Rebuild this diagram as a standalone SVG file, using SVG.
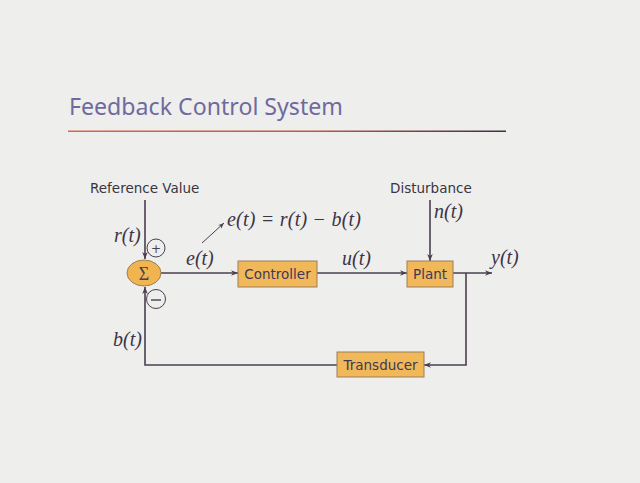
<svg xmlns="http://www.w3.org/2000/svg" width="640" height="483" viewBox="0 0 640 483">
<defs>
<linearGradient id="rule" x1="0" x2="1" y1="0" y2="0">
<stop offset="0" stop-color="#d4674a"/>
<stop offset="0.55" stop-color="#c0584a"/>
<stop offset="1" stop-color="#3e3046"/>
</linearGradient>
<marker id="ah" viewBox="0 0 10 10" refX="10" refY="5" markerWidth="7" markerHeight="7" markerUnits="userSpaceOnUse" orient="auto">
<path d="M0,1 L10,5 L0,9 L3,5 Z" fill="#4a3f4f"/>
</marker>
<marker id="ahs" viewBox="0 0 10 10" refX="10" refY="5" markerWidth="6" markerHeight="6" markerUnits="userSpaceOnUse" orient="auto">
<path d="M0,1 L10,5 L0,9 L3,5 Z" fill="#4a3f4f"/>
</marker>
</defs>
<style>
.lbl{font-family:"DejaVu Sans",Verdana,sans-serif;font-size:13.5px;fill:#3a3540}
.box{fill:#f0b858;stroke:#9c7f5a;stroke-width:1}
.btxt{font-family:"DejaVu Sans",Verdana,sans-serif;font-size:13.5px;fill:#3e3858;text-anchor:middle}
.math{font-family:"Liberation Serif","Times New Roman",serif;font-style:italic;font-size:20px;fill:#3c3448}
.wire{fill:none;stroke:#4a3f4f;stroke-width:1.6}
.sign{fill:none;stroke:#4a3f4f;stroke-width:1}
</style>
<rect width="640" height="483" fill="#eeeeec"/>
<text x="69" y="115" font-family="'Noto Sans','DejaVu Sans',sans-serif" font-size="23" fill="#6e6a9e" textLength="274" lengthAdjust="spacingAndGlyphs">Feedback Control System</text>
<rect x="68" y="130.5" width="438" height="1.5" fill="url(#rule)"/>

<g id="connectors">
<line class="wire" x1="145" y1="200" x2="145" y2="259" marker-end="url(#ah)"/>
<line class="wire" x1="161" y1="273" x2="238" y2="273" marker-end="url(#ah)"/>
<line class="wire" x1="317" y1="273" x2="407" y2="273" marker-end="url(#ah)"/>
<line class="wire" x1="430" y1="200" x2="430" y2="261" marker-end="url(#ah)"/>
<line class="wire" x1="453" y1="273" x2="492" y2="273" marker-end="url(#ah)"/>
<polyline class="wire" points="466,273 466,365 424,365" marker-end="url(#ah)"/>
<polyline class="wire" points="337,365 145,365 145,287" marker-end="url(#ah)"/>
<line stroke="#4a3f4f" stroke-width="1" x1="202" y1="243" x2="224" y2="223" marker-end="url(#ahs)"/>
</g>

<g id="sum">
<ellipse cx="144" cy="273" rx="17" ry="13" fill="#f0b450" stroke="#9c7f5a" stroke-width="1"/>
<text x="144" y="279.5" text-anchor="middle" font-family="'Liberation Serif',serif" font-size="18" fill="#4a3f4f">Σ</text>
</g>
<g id="plus">
<circle class="sign" cx="156" cy="248" r="9"/>
<text x="156" y="252.5" text-anchor="middle" font-family="'DejaVu Sans',sans-serif" font-size="12" fill="#4a3f4f">+</text>
</g>
<g id="minus">
<circle class="sign" cx="156" cy="299" r="9.5"/>
<line x1="151" y1="300" x2="161" y2="300" stroke="#4a3f4f" stroke-width="1.4"/>
</g>

<g id="controller">
<rect class="box" x="238" y="261" width="79" height="26"/>
<text class="btxt" x="277.5" y="279">Controller</text>
</g>
<g id="plant">
<rect class="box" x="407" y="261" width="46" height="26"/>
<text class="btxt" x="430" y="279">Plant</text>
</g>
<g id="transducer">
<rect class="box" x="337" y="352" width="87" height="25"/>
<text class="btxt" x="380.5" y="370">Transducer</text>
</g>

<g id="labels">
<text class="lbl" x="90" y="193">Reference Value</text>
<text class="lbl" x="390" y="193">Disturbance</text>
<text class="math" x="114" y="242">r(t)</text>
<text class="math" x="186" y="265">e(t)</text>
<text class="math" x="227" y="226" textLength="134">e(t) = r(t) − b(t)</text>
<text class="math" x="434" y="218" font-size="17">n(t)</text>
<text class="math" x="342" y="265">u(t)</text>
<text class="math" x="491" y="264">y(t)</text>
<text class="math" x="113" y="346">b(t)</text>
</g>
</svg>
